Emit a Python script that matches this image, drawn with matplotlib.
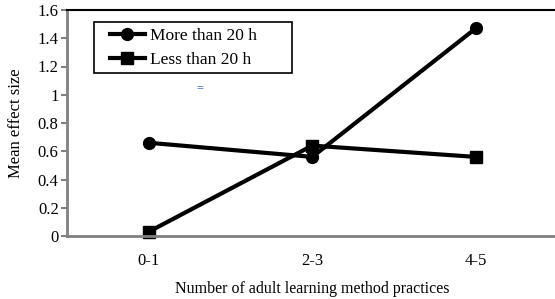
import matplotlib
matplotlib.use("Agg")
import matplotlib.pyplot as plt
from matplotlib.patches import Rectangle

categories = ["0-1", "2-3", "4-5"]
more_than_20 = [0.66, 0.56, 1.47]
less_than_20 = [0.03, 0.64, 0.56]
yticks = [0, 0.2, 0.4, 0.6, 0.8, 1.0, 1.2, 1.4, 1.6]
ytick_labels = ["0", "0.2", "0.4", "0.6", "0.8", "1", "1.2", "1.4", "1.6"]

plt.rcParams['font.family'] = ['Liberation Serif', 'DejaVu Serif']

fig = plt.figure(figsize=(5.55, 2.99), dpi=100)
W, H = 555, 299
left, right, top, bottom = 67, 557.5, 10, 236
ax = fig.add_axes([left / W, 1 - bottom / H, (right - left) / W, (bottom - top) / H])

x = list(range(len(categories)))
ax.plot(x, more_than_20, color='black', lw=3, marker='o', ms=8.5, label='More than 20 h', clip_on=False)
ax.plot(x, less_than_20, color='black', lw=3, marker='s', ms=8.5, label='Less than 20 h', clip_on=False)

ax.set_xlim(-0.5, 2.5)
ax.set_ylim(0, 1.6)
ax.set_yticks(yticks)
ax.set_yticklabels(ytick_labels, fontsize=12)
ax.set_xticks(x)
ax.set_xticklabels(categories, fontsize=12)
ax.tick_params(axis='x', length=0, pad=12)
ax.tick_params(axis='y', length=4, color='#808080', width=1.5, pad=2)

for s in ['left', 'bottom']:
    ax.spines[s].set_color('#808080')
    ax.spines[s].set_linewidth(2)
ax.spines['top'].set_color('black')
ax.spines['top'].set_linewidth(1.5)
ax.spines['right'].set_visible(False)

ax.set_ylabel('Mean effect size', fontsize=12, labelpad=10)
ax.set_xlabel('Number of adult learning method practices', fontsize=11.5, labelpad=9)

# legend frame
fig.patches.append(Rectangle((94 / W, 1 - 73 / H), (292 - 94) / W, (73 - 22) / H,
                             transform=fig.transFigure, facecolor='white', edgecolor='black',
                             linewidth=1.2, zorder=5))
leg = fig.legend(loc='upper left', bbox_to_anchor=(110 / W, 1 - 28 / H),
                 fontsize=12.5, frameon=False, handlelength=2.0,
                 borderpad=0, borderaxespad=0, labelspacing=0.45, handletextpad=0.3)
leg.set_zorder(6)

fig.text(200 / W, 1 - 88 / H, '=', color='#4472C4', fontsize=9, fontweight='bold',
         ha='center', va='center')

fig.savefig('out.png', dpi=100)
